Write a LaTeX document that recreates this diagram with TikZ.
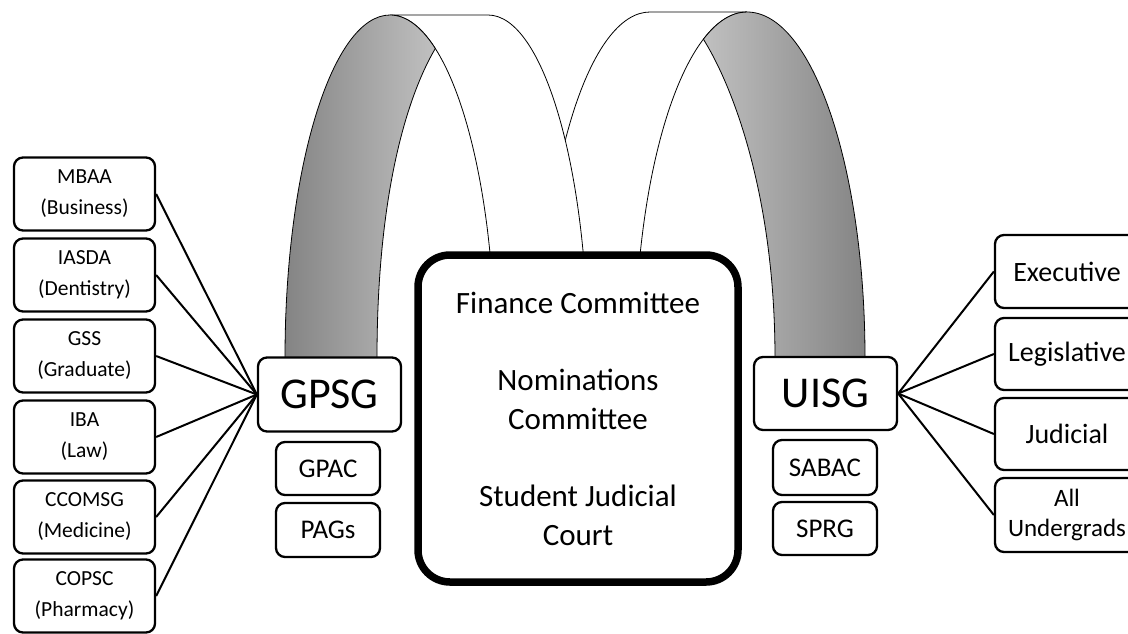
\documentclass[tikz,border=0pt]{standalone}
\usepackage{fontspec}
\setmainfont{Carlito}
\definecolor{gdark}{RGB}{132,132,132}
\definecolor{glight}{RGB}{192,192,192}
\begin{document}
\begin{tikzpicture}[x=1pt,y=-1pt,
  box/.style={draw, line width=2.3pt, rounded corners=9pt, fill=white, inner sep=0pt, align=center},
  leftbox/.style={box, minimum width=141pt, minimum height=73pt, font=\fontsize{21.5}{31}\selectfont},
  rightbox/.style={box, minimum width=144pt, minimum height=73pt, font=\fontsize{28}{30}\selectfont},
  subbox/.style={box, minimum width=104pt, minimum height=54pt, font=\fontsize{27}{30}\selectfont},
  mainbox/.style={box, minimum width=143pt, minimum height=74pt, font=\fontsize{44}{48}\selectfont},
  bigbox/.style={draw, line width=7.5pt, rounded corners=32pt, fill=white, inner sep=0pt, align=center,
    minimum width=320pt, minimum height=327pt, font=\fontsize{31}{39}\selectfont},
  conn/.style={line width=2pt},
  archline/.style={line width=0.8pt},
]
\useasboundingbox (0,0) rectangle (1128,633);
\clip (0,0) rectangle (1128,633);

% ---- right arch (behind) ----
\draw[archline] (541,358) .. controls (541,166.9) and (589.8,12) .. (650,12) -- (747,12);
\draw[archline] (747,12) .. controls (685.1,12) and (635,166.9) .. (635,358);
\path[left color=glight, right color=gdark, draw, archline]
  (703.4,39.2) .. controls (716.8,21.7) and (731.5,12) .. (747,12)
  .. controls (812.2,12) and (865,166.9) .. (865,358) -- (775,358)
  .. controls (775,200) and (735,90) .. (703.4,39.2) -- cycle;

% ---- left arch (front) ----
\filldraw[fill=white, archline] (390,15) -- (488,15)
  .. controls (543.2,15) and (588,168.6) .. (588,358) -- (495,358)
  .. controls (495,168.6) and (448,15) .. (390,15) -- cycle;
\path[left color=gdark, right color=glight, draw, archline]
  (285,358) .. controls (285,168.6) and (332,15) .. (390,15)
  .. controls (406.2,15) and (421.6,27) .. (435.3,48.5)
  .. controls (405,100) and (377,200) .. (377,358) -- cycle;

% ---- nodes ----
\node[bigbox] (center) at (578,418.5) {Finance Committee\\[38pt]Nominations\\Committee\\[38pt]Student Judicial\\Court};

\node[mainbox] (gpsg) at (329.5,394.5) {GPSG};
\node[subbox, minimum height=53pt] (gpac) at (328,468.5) {GPAC};
\node[subbox] (pags) at (328,530) {PAGs};

\node[mainbox, minimum height=73pt] (uisg) at (825.5,393.5) {UISG};
\node[subbox, minimum height=55pt] (sabac) at (825,467.5) {SABAC};
\node[subbox, minimum height=53pt] (sprg) at (825,528.5) {SPRG};

\node[leftbox] (mbaa) at (84.5,194) {MBAA\\(Business)};
\node[leftbox] (iasda) at (84.5,275) {IASDA\\(Dentistry)};
\node[leftbox] (gss) at (84.5,356) {GSS\\(Graduate)};
\node[leftbox] (iba) at (84.5,437) {IBA\\(Law)};
\node[leftbox] (ccomsg) at (84.5,517) {CCOMSG\\(Medicine)};
\node[leftbox] (copsc) at (84.5,596) {COPSC\\(Pharmacy)};

\node[rightbox] (exec) at (1067,271.5) {Executive};
\node[rightbox, minimum height=72pt] (legis) at (1067,354) {Legislative};
\node[rightbox, minimum height=72pt] (jud) at (1067,434) {Judicial};
\node[rightbox, minimum height=74pt, font=\fontsize{25}{30}\selectfont] (allu) at (1067,515) {All\\Undergrads};

% ---- connectors ----
\foreach \n in {mbaa,iasda,gss,iba,ccomsg,copsc}
  \draw[conn] (\n.east) -- (gpsg.west);
\foreach \n in {exec,legis,jud,allu}
  \draw[conn] (uisg.east) -- (\n.west);
\end{tikzpicture}
\end{document}
